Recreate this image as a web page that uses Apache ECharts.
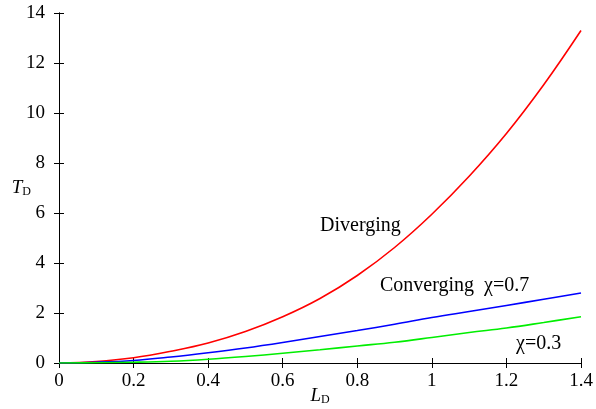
<!DOCTYPE html>
<html>
<head>
<meta charset="utf-8">
<script src="https://cdn.jsdelivr.net/npm/echarts@6/dist/echarts.min.js"></script>
<style>html,body{margin:0;padding:0;background:#fff}#c{width:596px;height:409px}</style>
</head>
<body>
<div id="c"></div>
<script>
var xs = [0,0.1,0.2,0.3,0.4,0.5,0.6,0.7,0.8,0.9,1.0,1.1,1.2,1.3,1.4];
var diverging = [0,0.06,0.21,0.47,0.8,1.26,1.85,2.58,3.5,4.62,5.95,7.47,9.18,11.13,13.3];
var converging07 = [0,0.03,0.1,0.24,0.41,0.6,0.82,1.06,1.3,1.55,1.82,2.06,2.3,2.55,2.8];
var converging03 = [0,0.01,0.03,0.07,0.15,0.26,0.39,0.53,0.68,0.83,1.02,1.22,1.4,1.62,1.85];
var xTicks = ['0','0.2','0.4','0.6','0.8','1','1.2','1.4'];

function pairs(ys){ return xs.map(function(x,i){ return [x, ys[i]]; }); }

var font = 'Liberation Serif';
var chart = echarts.init(document.getElementById('c'), null, {renderer:'canvas'});
var axLine = {show:true, lineStyle:{color:'#000', width:1}};
var tick = {show:true, inside:true, length:5, lineStyle:{color:'#000', width:1}};
var tl = {t:{fontFamily:font, fontSize:19, color:'#000'}};
var nameRich = {i:{fontFamily:font, fontStyle:'italic', fontSize:19, color:'#000'},
                s:{fontFamily:font, fontSize:12, color:'#000', verticalAlign:'bottom', padding:[8,0,0,0]}};
var annRich = {a:{fontFamily:font, fontSize:20, color:'#000'}};
chart.setOption({
  animation:false,
  backgroundColor:'#fff',
  textStyle:{fontFamily:font},
  grid:{left:59, right:15, top:13, bottom:46, containLabel:false, outerBoundsMode:'none'},
  xAxis:[{
    type:'value', min:0, max:1.4, interval:0.2, position:'bottom',
    axisLine:axLine, axisTick:tick, splitLine:{show:false},
    axisLabel:{color:'#000', fontFamily:font, fontSize:19, margin:9, rich:tl,
      formatter:function(v){ var s = xTicks[Math.round(v/0.2)]; return s===undefined?'':'{t|'+s+'}'; }},
    name:'{i|L}{s|D}', nameLocation:'middle', nameGap:23, nameMoveOverlap:false,
    nameTextStyle:{rich:nameRich}
  },{
    type:'value', min:0, max:1.4, interval:0.2, position:'top',
    axisLine:axLine, axisTick:tick, axisLabel:{show:false}, splitLine:{show:false}
  }],
  yAxis:[{
    type:'value', min:0, max:14, interval:2, position:'left',
    axisLine:axLine, axisTick:tick, splitLine:{show:false},
    axisLabel:{color:'#000', fontFamily:font, fontSize:19, margin:14, rich:tl,
      formatter:function(v){ return '{t|'+v+'}'; }},
    name:'{i|T}{s|D}', nameLocation:'middle', nameGap:28, nameRotate:0, nameMoveOverlap:false,
    nameTextStyle:{rich:nameRich}
  },{
    type:'value', min:0, max:14, interval:2, position:'right',
    axisLine:axLine, axisTick:tick, axisLabel:{show:false}, splitLine:{show:false}
  }],
  series:[
    {name:'Diverging', type:'line', data:pairs(diverging), smooth:0.4, showSymbol:false,
     lineStyle:{color:'#ff0000', width:1.6}, z:3},
    {name:'Converging 0.7', type:'line', data:pairs(converging07), smooth:0.4, showSymbol:false,
     lineStyle:{color:'#0000ff', width:1.6}, z:3},
    {name:'Converging 0.3', type:'line', data:pairs(converging03), smooth:0.4, showSymbol:false,
     lineStyle:{color:'#00ee00', width:1.6}, z:3}
  ],
  graphic:[
    {type:'text', left:320, top:216, style:{text:'{a|Diverging}', rich:annRich}},
    {type:'text', left:380, top:276, style:{text:'{a|Converging  \u03c7=0.7}', rich:annRich}},
    {type:'text', left:516, top:334, style:{text:'{a|\u03c7=0.3}', rich:annRich}}
  ]
});
</script>
</body>
</html>
